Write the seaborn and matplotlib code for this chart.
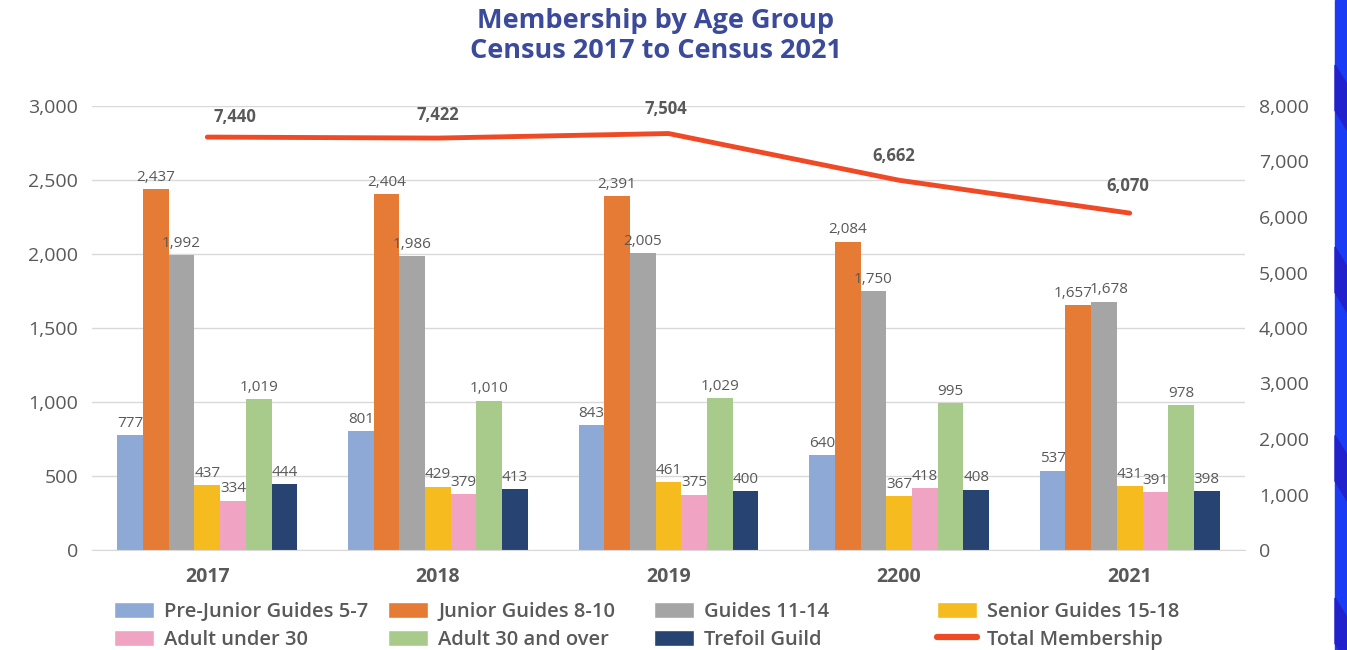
import numpy as np
import pandas as pd
import matplotlib
matplotlib.use("Agg")
import matplotlib.pyplot as plt
import seaborn as sns
from matplotlib.patches import Patch, Rectangle, Polygon
from matplotlib.lines import Line2D

# ============================================================
# Data
# ============================================================

years = ["2017", "2018", "2019", "2200", "2021"]
groups = ["Pre-Junior Guides 5-7", "Junior Guides 8-10", "Guides 11-14",
          "Senior Guides 15-18", "Adult under 30", "Adult 30 and over",
          "Trefoil Guild"]

pre_junior = [777, 801, 843, 640, 537]
junior = [2437, 2404, 2391, 2084, 1657]
guides = [1992, 1986, 2005, 1750, 1678]
senior = [437, 429, 461, 367, 431]
adult_u30 = [334, 379, 375, 418, 391]
adult_30 = [1019, 1010, 1029, 995, 978]
trefoil = [444, 413, 400, 408, 398]
total = [7440, 7422, 7504, 6662, 6070]

colors = ["#8ea9d5", "#e57b35", "#a5a5a5", "#f5bb1f", "#f0a3c3", "#a8cb8c", "#264372"]
line_color = "#ef4a25"
title_color = "#3b4a9a"
text_color = "#595959"

series = [pre_junior, junior, guides, senior, adult_u30, adult_30, trefoil]
df = pd.DataFrame([
    {"year": y, "group": g, "count": v}
    for g, vals in zip(groups, series)
    for y, v in zip(years, vals)
])

# ============================================================
# Plot
# ============================================================

sns.set_style("white")
plt.rcParams["font.family"] = ["Open Sans", "DejaVu Sans"]

fig = plt.figure(figsize=(13.47, 6.5), dpi=100)
ax = fig.add_axes([92 / 1347, 1 - 550 / 650, (1245 - 92) / 1347, (550 - 106) / 650])

sns.barplot(data=df, x="year", y="count", hue="group", hue_order=groups,
            order=years, palette=colors, width=0.78, saturation=1,
            linewidth=0, ax=ax, legend=False)

for cont, vals in zip(ax.containers, series):
    texts = ax.bar_label(cont, labels=[f"{v:,}" for v in vals], padding=3,
                         fontsize=11, color=text_color)
    # 2021: junior and guides labels sit close, push them apart a little
    if vals is junior or vals is guides:
        t = texts[-1]
        dx = -4 if vals is junior else 4
        t.xyann = (t.xyann[0] + dx, t.xyann[1])

ax.set_ylim(0, 3000)
ax.set_yticks(np.arange(0, 3001, 500))
ax.set_yticklabels([f"{int(t):,}" for t in np.arange(0, 3001, 500)],
                   fontsize=14, color=text_color)
ax.yaxis.grid(True, color="#d9d9d9", linewidth=1)
ax.set_axisbelow(True)
ax.set_xlabel("")
ax.set_ylabel("")
ax.tick_params(axis="both", length=0)
ax.tick_params(axis="y", pad=10)
ax.tick_params(axis="x", pad=12)
for lbl in ax.get_xticklabels():
    lbl.set_fontweight("bold")
    lbl.set_fontsize(14)
    lbl.set_color(text_color)
for s in ["top", "left", "right"]:
    ax.spines[s].set_visible(False)
ax.spines["bottom"].set_color("#d9d9d9")

# Total membership on secondary axis
ax2 = ax.twinx()
xpos = np.arange(len(years))
sns.lineplot(x=xpos, y=total, ax=ax2, color=line_color, linewidth=3.5,
             solid_capstyle="round")
ax2.set_ylim(0, 8000)
ax2.set_yticks(np.arange(0, 8001, 1000))
ax2.set_yticklabels([f"{int(t):,}" for t in np.arange(0, 8001, 1000)],
                    fontsize=14, color=text_color)
ax2.tick_params(axis="y", length=0, pad=10)
ax2.set_ylabel("")
for s in ["top", "left", "right", "bottom"]:
    ax2.spines[s].set_visible(False)
ax.set_xlim(-0.5, len(years) - 0.5)

offsets = [(20, 8), (0, 10), (-2, 11), (-4, 11), (-1, 13)]
for x, v, off in zip(xpos, total, offsets):
    ax2.annotate(f"{v:,}", (x, v), xytext=off, textcoords="offset points",
                 ha="center", va="bottom", fontsize=12, fontweight="bold",
                 color=text_color)

# Title
fig.text(0.487, 0.967, "Membership by Age Group", ha="center", va="center",
         fontsize=19.5, fontweight="bold", color=title_color)
fig.text(0.487, 0.921, "Census 2017 to Census 2021", ha="center", va="center",
         fontsize=19.5, fontweight="bold", color=title_color)

# Legend: four columns placed individually, rows read left to right
handles = [Patch(facecolor=c, label=g) for c, g in zip(colors, groups)]
handles.append(Line2D([0], [0], color=line_color, linewidth=4.5,
                      solid_capstyle="round", label="Total Membership"))
col_x = [114, 388, 654, 937]
for i, cx in enumerate(col_x):
    pair = [handles[i], handles[i + 4]]
    fig.legend(pair, [h.get_label() for h in pair],
               loc="center left", bbox_to_anchor=(cx / 1347, 0.037),
               ncol=1, frameon=False,
               prop={"size": 14.5, "weight": "semibold"},
               labelcolor=text_color, handlelength=2.0,
               handleheight=0.85, handletextpad=0.5,
               labelspacing=0.4, borderpad=0, borderaxespad=0)

# Blue strip at right edge with darker diagonal bands
fig.patches.append(Rectangle((1335 / 1347, 0), 12 / 1347, 1,
                             transform=fig.transFigure, color="#1a3cf5",
                             zorder=0))
x0, x1 = 1335 / 1347, 1.0
for yb in [0.9, 0.62, 0.33, 0.08]:
    fig.patches.append(Polygon([(x0, yb), (x1, yb - 0.03), (x1, yb - 0.1),
                                (x0, yb - 0.07)], closed=True,
                               transform=fig.transFigure, color="#2222cc",
                               zorder=0))

fig.savefig("out.png", dpi=100)
